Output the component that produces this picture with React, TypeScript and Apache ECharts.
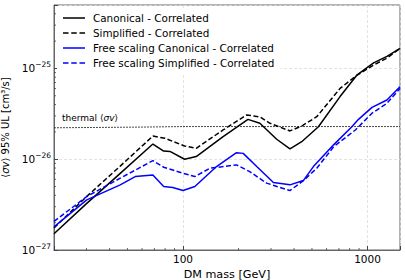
import React, { useEffect, useRef, useState } from "react";
import * as echarts from "echarts";

// ---- data (masses in GeV, limits in cm^3/s) ----
const canonicalMass = [20, 30, 45.7, 68.7, 78.6, 85, 102, 118, 165, 225, 261, 322, 380, 440, 542, 710, 875, 1079, 1274, 1500];
const canonicalUL = [1.51e-27, 3.24e-27, 6.98e-27, 1.47e-26, 1.23e-26, 1.22e-26, 1.0e-26, 1.07e-26, 1.77e-26, 2.75e-26, 2.49e-26, 1.66e-26, 1.3e-26, 1.56e-26, 2.28e-26, 4.9e-26, 8.43e-26, 1.15e-25, 1.36e-25, 1.66e-25];

const simplifiedMass = [20, 30, 45.7, 68.7, 80, 102, 118, 165, 221, 261, 296, 380, 440, 531, 710, 875, 1079, 1274, 1500];
const simplifiedUL = [1.75e-27, 3.87e-27, 8.4e-27, 1.8e-26, 1.7e-26, 1.4e-26, 1.32e-26, 2.1e-26, 3.07e-26, 2.93e-26, 2.49e-26, 2.05e-26, 2.32e-26, 2.94e-26, 6.03e-26, 8.4e-26, 1.09e-25, 1.3e-25, 1.66e-25];

const freeCanonicalMass = [20, 30.1, 45.7, 55.1, 68.7, 78.6, 88, 100, 116, 152, 195, 212, 251, 309, 380, 449, 509, 655, 823, 894, 1058, 1274, 1500];
const freeCanonicalUL = [1.8e-27, 3.57e-27, 5.22e-27, 6.44e-27, 6.72e-27, 5.0e-27, 4.88e-27, 4.52e-27, 5.0e-27, 8.3e-27, 1.18e-26, 1.16e-26, 8.3e-27, 5.53e-27, 5.22e-27, 5.82e-27, 8.3e-27, 1.44e-26, 2.28e-26, 2.75e-26, 3.73e-26, 4.49e-26, 6.28e-26];

const freeSimplifiedMass = [20, 30.1, 45.7, 68.7, 78.6, 88, 100, 116, 140, 195, 230, 284, 380, 449, 531, 655, 859, 1058, 1274, 1500];
const freeSimplifiedUL = [2.07e-27, 3.88e-27, 6.18e-27, 9.65e-27, 8.16e-27, 7.62e-27, 7.0e-27, 6.44e-27, 7.96e-27, 8.66e-27, 7.3e-27, 5.45e-27, 4.52e-27, 5.8e-27, 7.96e-27, 1.37e-26, 2.1e-26, 3.21e-26, 4.12e-26, 6.03e-26];

const thermalMass = [20, 60, 100, 1500];
const thermalUL = [2.22e-26, 2.26e-26, 2.29e-26, 2.29e-26];

const xMinorTicks = [30, 40, 50, 60, 70, 80, 90, 200, 300, 400, 500, 600, 700, 800, 900];
const yMinorTicks = [
  2e-27, 3e-27, 4e-27, 5e-27, 6e-27, 7e-27, 8e-27, 9e-27,
  2e-26, 3e-26, 4e-26, 5e-26, 6e-26, 7e-26, 8e-26, 9e-26,
  2e-25, 3e-25, 4e-25,
];

const seriesNames = [
  "Canonical - Correlated",
  "Simplified - Correlated",
  "Free scaling Canonical - Correlated",
  "Free scaling Simplified - Correlated",
];

const X_MIN = 20;
const X_MAX = 1500;
const Y_MIN = 1e-27;
const Y_MAX = 5e-25;

// the y axis works in units of 1e-27 cm^3/s (avoids tiny-number precision issues)
const Y_UNIT_EXP = -27;
const Y_UNIT = 1e-27;
const ys = (v: number) => v / Y_UNIT;

const FONT = "DejaVu Sans";

const zip = (xs: number[], yv: number[]) => xs.map((x, i) => [x, ys(yv[i])]);

const isDecade = (v: number) => {
  const l = Math.log10(v);
  return Math.abs(l - Math.round(l)) < 1e-6;
};

// legend icons: a line in a 22x12 box (tiny corner dots fix the box)
const BOX = "M0,0h0.01v0.01h-0.01z M21.99,11.99h0.01v0.01h-0.01z ";
const SOLID_ICON = "path://" + BOX + "M0,5.25h22v1.5h-22z";
const DASHED_ICON = "path://" + BOX + "M0,5.25h5.5v1.5h-5.5z M8.25,5.25h5.5v1.5h-5.5z M16.5,5.25h5.5v1.5h-5.5z";

export default function App() {
  const ref = useRef<HTMLDivElement>(null);
  const [err, setErr] = useState("");

  useEffect(() => {
    if (!ref.current) return;
    const chart = echarts.init(ref.current, undefined, { renderer: "svg" });

    const lineSeries = (name: string, data: number[][], color: string, dashed: boolean) => ({
      name,
      type: "line",
      data,
      showSymbol: false,
      symbol: "none",
      lineStyle: { color, width: 1.5, type: dashed ? [5, 2.5] : "solid" },
      itemStyle: { color },
      z: 3,
    });

    const option: any = {
      animation: false,
      backgroundColor: "#fff",
      textStyle: { fontFamily: FONT },
      grid: {
        left: 54,
        right: 5,
        top: 5,
        bottom: 30,
        show: true,
        borderColor: "#666",
        borderWidth: 1,
        backgroundColor: "transparent",
        containLabel: false,
        outerBoundsMode: "none",
      },
      legend: {
        data: seriesNames.map((n, i) => ({ name: n, icon: i % 2 === 0 ? SOLID_ICON : DASHED_ICON })),
        orient: "vertical",
        left: 57,
        top: 8,
        padding: [4, 6, 4, 6],
        backgroundColor: "#fff",
        itemWidth: 22,
        itemHeight: 12,
        itemGap: 3,
        textStyle: { fontFamily: FONT, fontSize: 10.4, color: "#000", lineHeight: 12, padding: [0, 0, 0, 3] },
        selectedMode: false,
      },
      xAxis: {
        type: "log",
        logBase: 10,
        min: X_MIN,
        max: X_MAX,
        name: "DM mass [GeV]",
        nameLocation: "middle",
        nameGap: 8,
        nameTextStyle: { fontFamily: FONT, fontSize: 11.2, color: "#000", lineHeight: 12 },
        axisLine: { show: true, lineStyle: { color: "#666", width: 1 } },
        axisTick: { show: true, inside: true, length: 4, lineStyle: { color: "#444" } },
        axisLabel: {
          fontFamily: FONT,
          fontSize: 10.5,
          color: "#000",
          margin: 3,
          formatter: (v: number) => (isDecade(v) ? String(Math.round(v)) : ""),
        },
        splitLine: {
          show: true,
          lineStyle: { color: "#dcdcdc", width: 0.8, type: [3, 2] },
        },
      },
      yAxis: {
        type: "log",
        logBase: 10,
        min: ys(Y_MIN),
        max: ys(Y_MAX),
        name: "{n|⟨}{i|σv}{n|⟩ 95% UL [cm³/s]}",
        nameLocation: "middle",
        nameGap: 35,
        nameRotate: 90,
        nameTextStyle: {
          fontFamily: FONT,
          fontSize: 10,
          color: "#000",
          rich: {
            n: { fontFamily: FONT, fontSize: 10, color: "#000" },
            i: { fontFamily: FONT, fontSize: 10, color: "#000", fontStyle: "italic" },
          },
        },
        axisLine: { show: true, lineStyle: { color: "#666", width: 1 } },
        axisTick: { show: true, inside: true, length: 4, lineStyle: { color: "#444" } },
        axisLabel: {
          fontFamily: FONT,
          color: "#000",
          margin: 3,
          formatter: (v: number) => {
            if (!isDecade(v)) return "";
            const e = Math.round(Math.log10(v)) + Y_UNIT_EXP;
            return `{b|10}{s|${e < 0 ? "−" : ""}${Math.abs(e)}}`;
          },
          rich: {
            b: { fontFamily: FONT, fontSize: 10.5, color: "#000" },
            s: { fontFamily: FONT, fontSize: 7.5, color: "#000", padding: [0, 0, 7, 0] },
          },
        },
        splitLine: {
          show: true,
          lineStyle: { color: "#dcdcdc", width: 0.8, type: [3, 2] },
        },
      },
      graphic: [
        {
          type: "text",
          left: 62,
          top: 113,
          z: 10,
          style: {
            text: "{n|thermal ⟨}{i|σv}{n|⟩}",
            rich: {
              n: { fontFamily: FONT, fontSize: 9, fill: "#000" },
              i: { fontFamily: FONT, fontSize: 9, fill: "#000", fontStyle: "italic" },
            },
          },
        },
      ],
      series: [
        {
          name: "thermal",
          type: "line",
          data: zip(thermalMass, thermalUL),
          showSymbol: false,
          symbol: "none",
          lineStyle: { color: "#333", width: 0.9, type: [2, 1] },
          z: 2,
        },
        lineSeries(seriesNames[0], zip(canonicalMass, canonicalUL), "#000", false),
        lineSeries(seriesNames[1], zip(simplifiedMass, simplifiedUL), "#000", true),
        lineSeries(seriesNames[2], zip(freeCanonicalMass, freeCanonicalUL), "#0000ff", false),
        lineSeries(seriesNames[3], zip(freeSimplifiedMass, freeSimplifiedUL), "#0000ff", true),
        {
          name: "xminor",
          type: "custom",
          data: xMinorTicks.map((x) => [x, ys(Y_MIN)]),
          silent: true,
          z: 5,
          renderItem: (_p: any, api: any) => {
            const pt = api.coord([api.value(0), api.value(1)]);
            return {
              type: "line",
              shape: { x1: pt[0], y1: pt[1], x2: pt[0], y2: pt[1] - 2 },
              style: { stroke: "#444", lineWidth: 0.8 },
            };
          },
        },
        {
          name: "yminor",
          type: "custom",
          data: yMinorTicks.map((y) => [X_MIN, ys(y)]),
          silent: true,
          z: 5,
          renderItem: (_p: any, api: any) => {
            const pt = api.coord([api.value(0), api.value(1)]);
            return {
              type: "line",
              shape: { x1: pt[0], y1: pt[1], x2: pt[0] + 2, y2: pt[1] },
              style: { stroke: "#444", lineWidth: 0.8 },
            };
          },
        },
      ],
    };

    try {
      chart.setOption(option);
    } catch (e: any) {
      setErr(String(e && e.stack ? e.stack : e));
    }
    return () => chart.dispose();
  }, []);

  return (
    <>
      <div
        ref={ref}
        style={{ position: "fixed", left: 0, top: 0, width: 405, height: 280, background: "#fff" }}
      />
      {err ? (
        <pre style={{ position: "fixed", left: 0, top: 0, fontSize: 8, whiteSpace: "pre-wrap", width: 405, color: "red", zIndex: 10 }}>{err}</pre>
      ) : null}
    </>
  );
}
